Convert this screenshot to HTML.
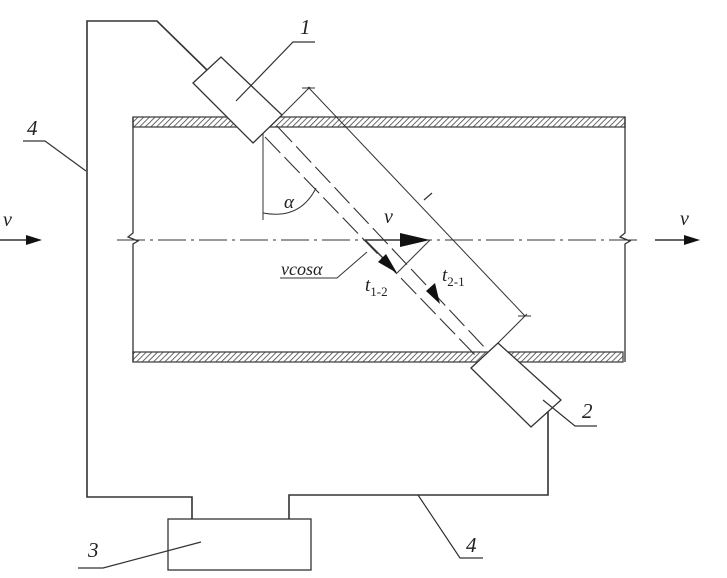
<!DOCTYPE html>
<html><head><meta charset="utf-8"><style>
html,body{margin:0;padding:0;background:#fff;}
svg{display:block;}
text{font-family:"Liberation Serif",serif;font-style:italic;fill:#222;}
</style></head><body>
<svg width="727" height="578" viewBox="0 0 727 578" xmlns="http://www.w3.org/2000/svg">
<defs>
<pattern id="h" width="4" height="4" patternUnits="userSpaceOnUse" patternTransform="rotate(45)">
<rect width="4" height="4" fill="#fff"/><line x1="0" y1="0" x2="0" y2="4" stroke="#444" stroke-width="1.6"/>
</pattern>
</defs>
<g fill="none" stroke="#333" stroke-width="1.3">
<rect x="133" y="117" width="492" height="10" fill="url(#h)" stroke="#444"/>
<rect x="133" y="352" width="490" height="10" fill="url(#h)" stroke="#444"/>
<polyline points="133,117 133,233 128,237 138,241 133,244 133,362"/>
<polyline points="625,117 625,233 620,237 630,241 625,244 625,362"/>
<line x1="117" y1="240" x2="640" y2="240" stroke-dasharray="28,5,3,5" stroke-width="1"/>
<polygon points="193,83 221,57 282,115 253,143" fill="#fff"/>
<polygon points="471,368 498,343 561,400 531,427" fill="#fff"/>
<line x1="265" y1="137" x2="477" y2="357" stroke-dasharray="22,6" stroke-width="1.1"/>
<line x1="277" y1="126" x2="487" y2="350" stroke-dasharray="22,6" stroke-width="1.1"/>
<line x1="280" y1="117" x2="310" y2="87" stroke-width="1"/>
<line x1="308" y1="87" x2="525" y2="316" stroke-width="1"/>
<line x1="498" y1="343" x2="527" y2="314" stroke-width="1"/>
<line x1="302" y1="88" x2="315" y2="88" stroke-width="1"/>
<line x1="518" y1="316" x2="531" y2="316" stroke-width="1"/>
<line x1="424" y1="200" x2="432" y2="193" stroke-width="1.2"/>
<line x1="263" y1="133" x2="263" y2="220" stroke-width="1"/>
<path d="M263,213 Q300,220 316,188" stroke-width="1"/>
<polyline points="207,70 157,21 87,21 87,497 192,497 192,519" stroke-width="1.6"/>
<polyline points="289,519 289,495 548,495 548,412" stroke-width="1.6"/>
<rect x="168" y="519" width="143" height="51" stroke-width="1.3"/>
<polyline points="236,101 293,42 315,42" stroke-width="1.2"/>
<polyline points="23,141 45,141 86,171" stroke-width="1.2"/>
<polyline points="543,400 575,426 597,426" stroke-width="1.2"/>
<polyline points="78,568 103,568 201,542" stroke-width="1.2"/>
<polyline points="418,495 460,558 483,558" stroke-width="1.2"/>
<polyline points="280,278 337,278 367,252" stroke-width="1"/>
<line x1="0" y1="240" x2="30" y2="240" stroke-width="1.5"/>
<line x1="655" y1="240" x2="688" y2="240" stroke-width="1.5"/>
<line x1="365" y1="240" x2="415" y2="240" stroke-width="1.5"/>
<line x1="365" y1="240" x2="388" y2="263" stroke-width="1.5"/>
<line x1="430" y1="240" x2="397" y2="273" stroke-width="1"/>
</g>
<g fill="#111">
<polygon points="42,240 26,235 26,245"/>
<polygon points="700,240 684,235 684,245"/>
<polygon points="430,240 400,233 400,247"/>
<polygon points="397,273 378,262 386,254"/>
<polygon points="440,304 426,291 435,283"/>
</g>
<text x="300" y="34" font-size="21">1</text>
<text x="582" y="418" font-size="21">2</text>
<text x="88" y="557" font-size="21">3</text>
<text x="27" y="135" font-size="21">4</text>
<text x="466" y="552" font-size="21">4</text>
<text x="3" y="226" font-size="20">v</text>
<text x="680" y="225" font-size="20">v</text>
<text x="384" y="223" font-size="20">v</text>
<text x="284" y="208" font-size="19">α</text>
<text x="281" y="275" font-size="18">vcosα</text>
<text x="365" y="291" font-size="19">t<tspan font-size="13" dy="5" font-style="normal">1-2</tspan></text>
<text x="442" y="281" font-size="19">t<tspan font-size="13" dy="5" font-style="normal">2-1</tspan></text>
</svg>
</body></html>
